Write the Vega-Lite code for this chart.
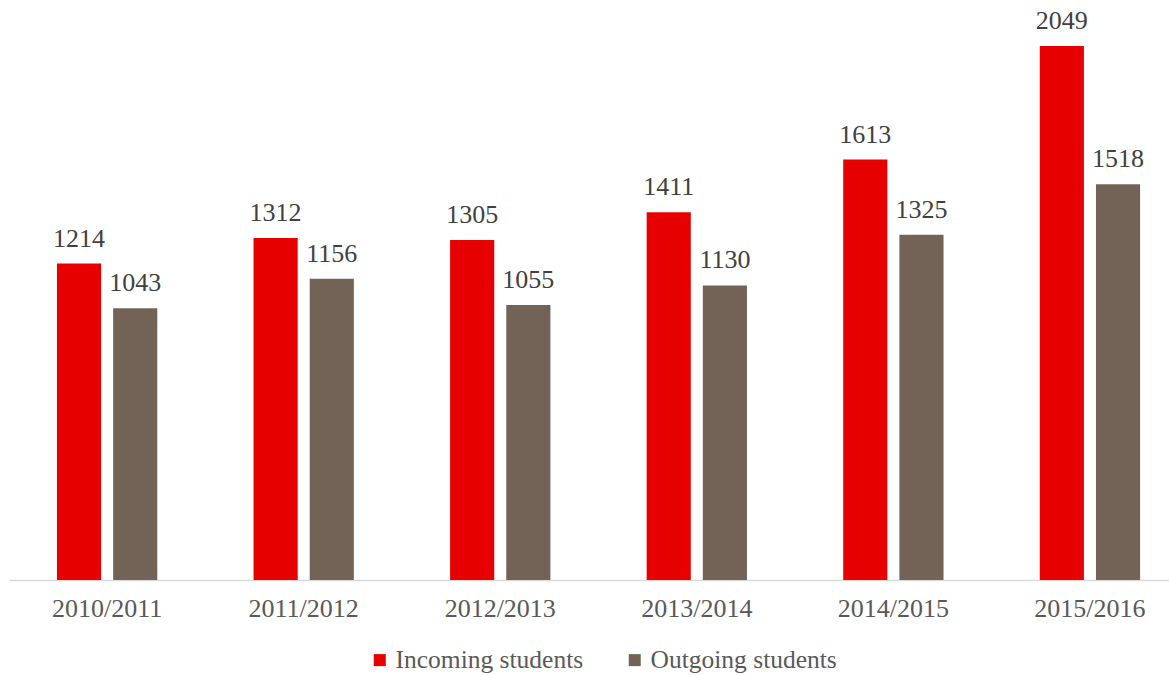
{
  "$schema": "https://vega.github.io/schema/vega-lite/v6.json",
  "width": 1160,
  "height": 570,
  "autosize": {"type": "none"},
  "padding": {"left": 9, "top": 10, "right": 0, "bottom": 95},
  "data": {
    "values": [
      {"year": "2010/2011", "series": "Incoming students", "value": 1214},
      {"year": "2010/2011", "series": "Outgoing students", "value": 1043},
      {"year": "2011/2012", "series": "Incoming students", "value": 1312},
      {"year": "2011/2012", "series": "Outgoing students", "value": 1156},
      {"year": "2012/2013", "series": "Incoming students", "value": 1305},
      {"year": "2012/2013", "series": "Outgoing students", "value": 1055},
      {"year": "2013/2014", "series": "Incoming students", "value": 1411},
      {"year": "2013/2014", "series": "Outgoing students", "value": 1130},
      {"year": "2014/2015", "series": "Incoming students", "value": 1613},
      {"year": "2014/2015", "series": "Outgoing students", "value": 1325},
      {"year": "2015/2016", "series": "Incoming students", "value": 2049},
      {"year": "2015/2016", "series": "Outgoing students", "value": 1518}
    ]
  },
  "encoding": {
    "x": {
      "field": "year", "type": "nominal", "sort": null,
      "scale": {"paddingInner": 0.4897, "paddingOuter": 0.1956, "align": 0.624},
      "axis": {
        "title": null, "labelAngle": 0, "domainColor": "#d9d9d9", "domainWidth": 1.5,
        "ticks": false, "labelFont": "Liberation Serif", "labelFontSize": 26,
        "labelColor": "#595959", "labelPadding": 15
      }
    },
    "xOffset": {
      "field": "series", "type": "nominal",
      "sort": ["Incoming students", "Outgoing students"],
      "scale": {"paddingInner": 0.2143, "paddingOuter": 0}
    },
    "y": {
      "field": "value", "type": "quantitative",
      "scale": {"domain": [0, 2187], "nice": false, "zero": true},
      "axis": null
    }
  },
  "layer": [
    {
      "mark": {"type": "bar"},
      "encoding": {
        "color": {
          "field": "series", "type": "nominal",
          "scale": {"domain": ["Incoming students", "Outgoing students"], "range": ["#E60000", "#736357"]},
          "legend": {
            "title": null, "orient": "none", "legendX": 358, "legendY": 637,
            "direction": "horizontal", "symbolType": "square", "symbolSize": 144,
            "symbolStrokeWidth": 0, "labelFont": "Liberation Serif", "labelFontSize": 25.5,
            "labelColor": "#595959", "columnPadding": 38, "labelOffset": 3, "labelLimit": 0
          }
        }
      }
    },
    {
      "mark": {"type": "text", "baseline": "alphabetic", "dy": -17, "font": "Liberation Serif", "fontSize": 26, "color": "#404040"},
      "encoding": {"text": {"field": "value", "type": "quantitative", "format": "d"}}
    }
  ],
  "config": {"view": {"stroke": null}}
}
